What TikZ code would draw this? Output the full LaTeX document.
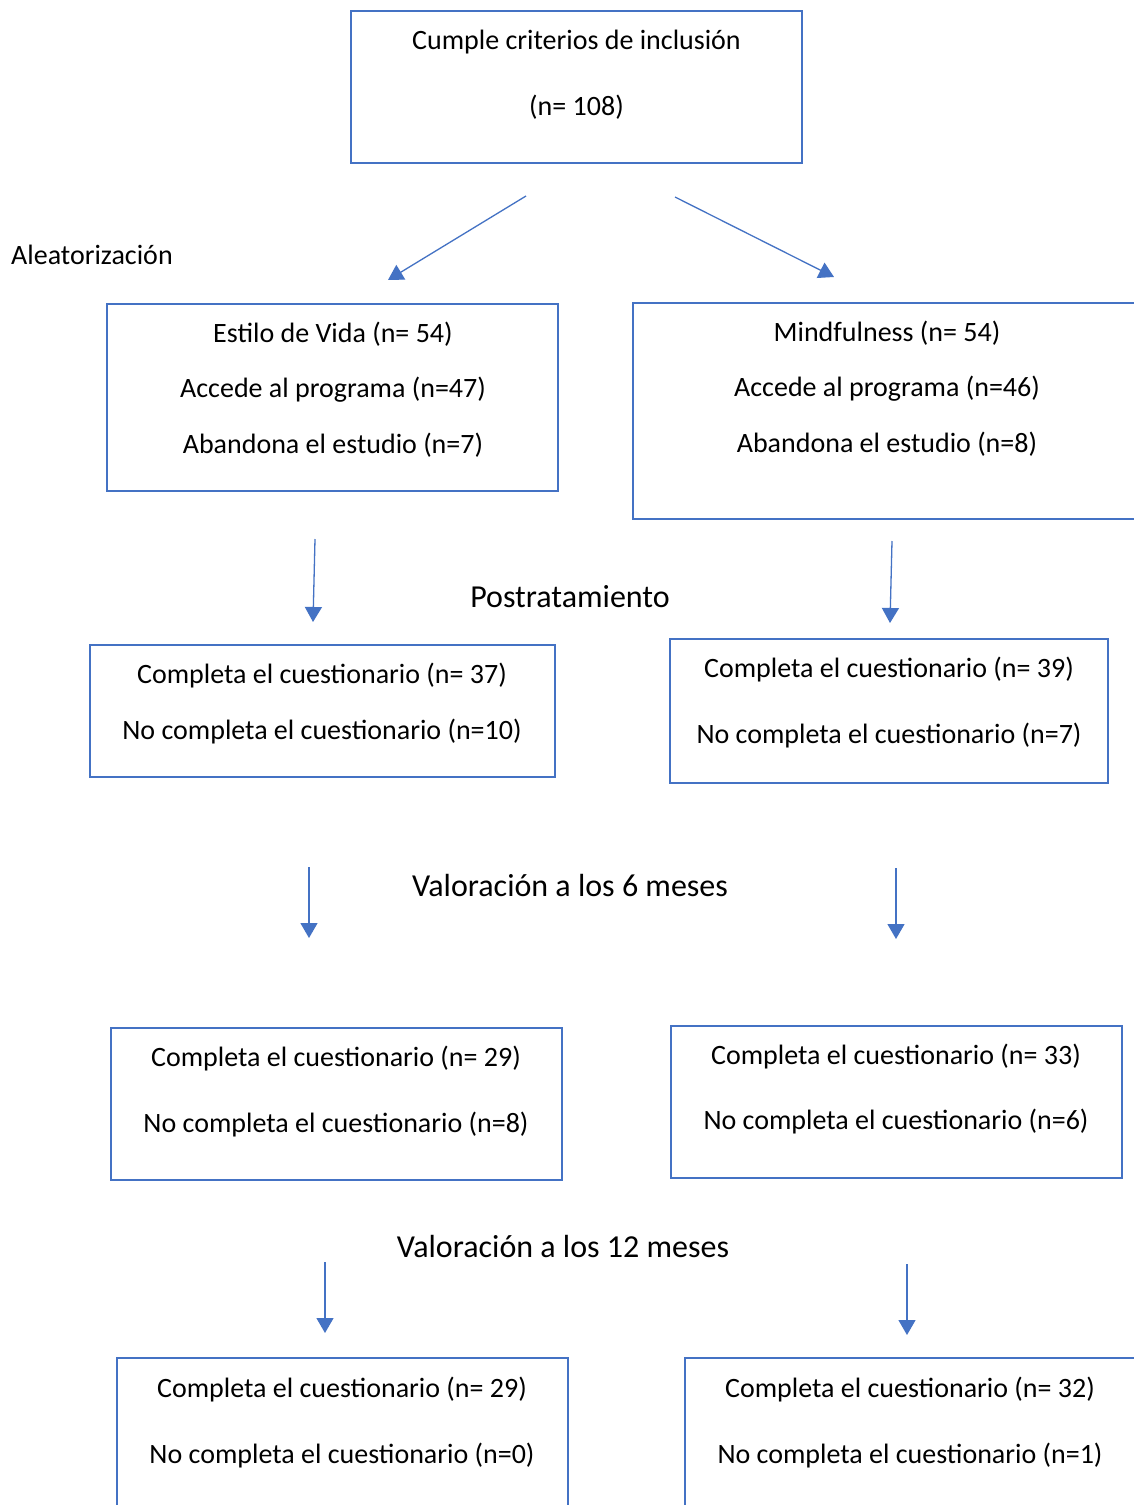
\documentclass[tikz,border=0pt]{standalone}
\usepackage{fontspec}
\setmainfont{Carlito}
\usetikzlibrary{arrows.meta}
\definecolor{wordblue}{HTML}{4472C4}
\tikzset{
  box/.style={draw=wordblue, line width=1.8pt, inner sep=0pt, outer sep=0pt, rectangle},
  txt/.style={inner sep=0pt, font=\fontsize{28}{32}\selectfont, text=black},
  lbl/.style={inner sep=0pt, font=\fontsize{32}{36}\selectfont, text=black},
  arr/.style={draw=wordblue, line width=1.3pt, -{Triangle[length=15pt,width=17pt]}}
}
\begin{document}
\begin{tikzpicture}[x=1pt,y=-1pt]
\useasboundingbox (0,0) rectangle (1134,1505);
\fill[white] (0,0) rectangle (1134,1505);
\clip (0,0) rectangle (1134,1505);

% boxes
\node[box, minimum width=451pt, minimum height=152pt] (top) at (576.5,87) {};
\node[box, minimum width=451pt, minimum height=187pt] (L1) at (332.5,397.5) {};
\node[box, minimum width=517pt, minimum height=216pt] (R1) at (891.5,411) {};
\node[box, minimum width=465pt, minimum height=132pt] (L2) at (322.5,711) {};
\node[box, minimum width=438pt, minimum height=144pt] (R2) at (889,711) {};
\node[box, minimum width=451pt, minimum height=152pt] (L3) at (336.5,1104) {};
\node[box, minimum width=451pt, minimum height=152pt] (R3) at (896.5,1102) {};
\node[box, minimum width=451pt, minimum height=170pt] (L4) at (342.5,1443) {};
\node[box, minimum width=465pt, minimum height=170pt] (R4) at (917.5,1443) {};

% texts
\node[txt] (t1) at (576.5,42) {Cumple criterios de inclusión};
\node[txt] (t2) at (576.5,107) {(n= 108)};
\node[txt, anchor=west] (alea) at (11,255) {Aleatorización};

\node[txt] (l1a) at (333,334) {Estilo de Vida (n= 54)};
\node[txt] (l1b) at (333,390) {Accede al programa (n=47)};
\node[txt] (l1c) at (333,445) {Abandona el estudio (n=7)};

\node[txt] (r1a) at (887,333) {Mindfulness (n= 54)};
\node[txt] (r1b) at (887,389) {Accede al programa (n=46)};
\node[txt] (r1c) at (887,444) {Abandona el estudio (n=8)};

\node[lbl] (post) at (570,597) {Postratamiento};

\node[txt] (l2a) at (322,676) {Completa el cuestionario (n= 37)};
\node[txt] (l2b) at (322,732) {No completa el cuestionario (n=10)};
\node[txt] (r2a) at (889,670) {Completa el cuestionario (n= 39)};
\node[txt] (r2b) at (889,736) {No completa el cuestionario (n=7)};

\node[lbl] (v6) at (570,885) {Valoración a los 6 meses};

\node[txt] (l3a) at (336,1059) {Completa el cuestionario (n= 29)};
\node[txt] (l3b) at (336,1124) {No completa el cuestionario (n=8)};
\node[txt] (r3a) at (896,1057) {Completa el cuestionario (n= 33)};
\node[txt] (r3b) at (896,1122) {No completa el cuestionario (n=6)};

\node[lbl] (v12) at (563,1246) {Valoración a los 12 meses};

\node[txt] (l4a) at (342,1389) {Completa el cuestionario (n= 29)};
\node[txt] (l4b) at (342,1455) {No completa el cuestionario (n=0)};
\node[txt] (r4a) at (910,1389) {Completa el cuestionario (n= 32)};
\node[txt] (r4b) at (910,1455) {No completa el cuestionario (n=1)};

% arrows
\coordinate (a1s) at (526,196); \coordinate (a1e) at (388,280);
\coordinate (a2s) at (675,197); \coordinate (a2e) at (834,277);
\coordinate (a3s) at (315,539); \coordinate (a3e) at (313,622);
\coordinate (a4s) at (892,541); \coordinate (a4e) at (890,623);
\coordinate (a5s) at (309,867); \coordinate (a5e) at (309,938);
\coordinate (a6s) at (896,868); \coordinate (a6e) at (896,939);
\coordinate (a7s) at (325,1262); \coordinate (a7e) at (325,1333);
\coordinate (a8s) at (907,1264); \coordinate (a8e) at (907,1335);
\foreach \i in {1,...,8} {\draw[arr] (a\i s) -- (a\i e);}
\end{tikzpicture}
\end{document}
